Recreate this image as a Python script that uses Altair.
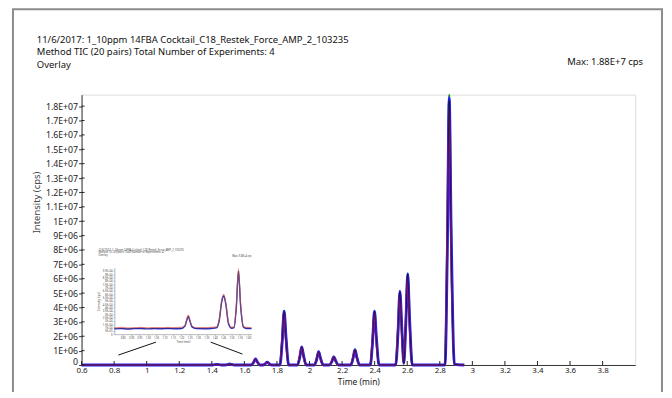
import altair as alt
import pandas as pd

# ---------------- text ----------------
title_lines = [
    "11/6/2017: 1_10ppm 14FBA Cocktail_C18_Restek_Force_AMP_2_103235",
    "Method TIC (20 pairs) Total Number of Experiments: 4",
    "Overlay",
]
max_label = "Max: 1.88E+7 cps"
inset_max_label = "Max: 9.8E+4 cps"
x_title = "Time (min)"
y_title = "Intensity (cps)"

# ---------------- main chromatogram (intensity in millions of cps) ----------------
times = [0.60,
         1.404, 1.418, 1.430, 1.442, 1.458,
         1.484, 1.498, 1.510, 1.522, 1.538,
         1.642, 1.656, 1.668, 1.680, 1.696,
         1.714, 1.728, 1.740, 1.752, 1.768,
         1.818, 1.832, 1.844, 1.856, 1.872,
         1.926, 1.940, 1.952, 1.964, 1.980,
         2.030, 2.044, 2.056, 2.068, 2.084,
         2.123, 2.137, 2.149, 2.161, 2.177,
         2.253, 2.267, 2.279, 2.291, 2.307,
         2.373, 2.387, 2.399, 2.411, 2.427,
         2.529, 2.543, 2.555, 2.567, 2.579,
         2.591, 2.603, 2.615, 2.631,
         2.832, 2.846, 2.858, 2.870, 2.890,
         2.95]

exp1_blue = [0,
             0, 0.02, 0.05, 0.025, 0,
             0, 0.03, 0.07, 0.035, 0,
             0, 0.17, 0.42, 0.21, 0,
             0, 0.08, 0.20, 0.10, 0,
             0, 1.55, 3.75, 1.90, 0,
             0, 0.52, 1.26, 0.63, 0,
             0, 0.38, 0.92, 0.46, 0,
             0, 0.23, 0.57, 0.29, 0,
             0, 0.44, 1.06, 0.53, 0,
             0, 1.55, 3.74, 1.88, 0,
             0, 2.10, 5.12, 2.60, 0.12,
             2.70, 6.34, 3.15, 0,
             0, 7.60, 18.6, 9.40, 0.05,
             0]

exp2_red = [0,
            0, 0.025, 0.05, 0.02, 0,
            0, 0.035, 0.07, 0.03, 0,
            0, 0.21, 0.41, 0.17, 0,
            0, 0.10, 0.19, 0.08, 0,
            0, 1.90, 3.66, 1.50, 0,
            0, 0.64, 1.23, 0.50, 0,
            0, 0.47, 0.90, 0.37, 0,
            0, 0.29, 0.56, 0.23, 0,
            0, 0.54, 1.04, 0.42, 0,
            0, 1.92, 3.65, 1.50, 0,
            0, 2.65, 5.02, 2.05, 0.10,
            3.25, 6.22, 2.55, 0,
            0, 9.40, 18.0, 7.40, 0.04,
            0]

exp3_green = [0,
              0, 0.02, 0.05, 0.02, 0,
              0, 0.03, 0.07, 0.03, 0,
              0, 0.19, 0.42, 0.19, 0,
              0, 0.09, 0.20, 0.09, 0,
              0, 1.72, 3.78, 1.72, 0,
              0, 0.57, 1.27, 0.57, 0,
              0, 0.42, 0.93, 0.42, 0,
              0, 0.26, 0.58, 0.26, 0,
              0, 0.48, 1.07, 0.48, 0,
              0, 1.70, 3.76, 1.70, 0,
              0, 2.32, 5.14, 2.32, 0.11,
              2.90, 6.36, 2.90, 0,
              0, 8.60, 18.8, 8.60, 0.05,
              0]

exp4_black = [0,
              0, 0.02, 0.05, 0.02, 0,
              0, 0.03, 0.07, 0.03, 0,
              0, 0.19, 0.41, 0.19, 0,
              0, 0.09, 0.20, 0.09, 0,
              0, 1.70, 3.72, 1.70, 0,
              0, 0.57, 1.25, 0.57, 0,
              0, 0.42, 0.91, 0.42, 0,
              0, 0.26, 0.57, 0.26, 0,
              0, 0.48, 1.05, 0.48, 0,
              0, 1.70, 3.72, 1.70, 0,
              0, 2.32, 5.08, 2.32, 0.11,
              2.88, 6.30, 2.88, 0,
              0, 8.40, 18.4, 8.40, 0.05,
              0]

x_ticks = [0.6, 0.8, 1.0, 1.2, 1.4, 1.6, 1.8, 2.0, 2.2, 2.4, 2.6, 2.8, 3.0, 3.2, 3.4, 3.6, 3.8]
y_ticks_m = [0, 1, 2, 3, 4, 5, 6, 7, 8, 9, 10, 11, 12, 13, 14, 15, 16, 17, 18]

# zoom indicator lines (time, intensity in millions)
zoom_x1 = [0.826, 1.393]
zoom_y1 = [0.69, 1.59]
zoom_x2 = [1.057, 1.588]
zoom_y2 = [1.59, 0.76]

# ---------------- inset chromatogram (intensity in thousands of cps) ----------------
inset_times = [0.80, 0.84, 0.88, 0.92, 0.96, 1.00, 1.04, 1.08, 1.12, 1.16, 1.20,
               1.222, 1.232, 1.242, 1.252, 1.264, 1.29, 1.34, 1.38, 1.41,
               1.428, 1.441, 1.454, 1.467, 1.482, 1.50, 1.515,
               1.529, 1.542, 1.555, 1.572, 1.59, 1.62]
inset_blue = [8.0, 8.4, 7.8, 8.3, 8.6, 7.9, 8.4, 8.1, 8.6, 8.2, 8.5,
              12.0, 20.0, 26.5, 19.5, 11.0, 8.4, 8.2, 8.6, 9.5,
              22.0, 47.0, 57.0, 44.0, 16.0, 9.0, 9.5,
              40.0, 93.0, 42.0, 10.5, 8.6, 8.3]
inset_red = [9.6, 10.1, 9.4, 9.9, 10.3, 9.5, 10.0, 9.8, 10.2, 9.9, 10.1,
             13.5, 22.0, 28.5, 21.0, 12.5, 10.0, 9.9, 10.2, 11.0,
             24.0, 50.0, 60.0, 46.0, 18.0, 10.6, 11.0,
             43.0, 98.0, 45.0, 12.0, 10.2, 9.9]
inset_black = [8.6, 8.9, 8.5, 8.8, 9.1, 8.6, 8.9, 8.7, 9.0, 8.8, 9.0,
               12.6, 21.0, 27.5, 20.0, 11.6, 9.0, 8.8, 9.2, 10.0,
               23.0, 49.0, 58.5, 45.0, 17.0, 9.6, 10.0,
               41.0, 95.0, 43.5, 11.0, 9.2, 8.9]
inset_x_ticks = [0.85, 0.9, 0.95, 1.0, 1.05, 1.1, 1.15, 1.2, 1.25, 1.3, 1.35, 1.4, 1.45, 1.5, 1.55, 1.6]
inset_y_ticks_k = [0, 5, 10, 15, 20, 25, 30, 35, 40, 45, 50, 55, 60, 65, 70, 75, 80, 85, 90, 95]

# ---------------- layout ----------------
W, H = 557, 272
FONT = "Noto Sans"

xs_main = alt.Scale(domain=[0.6, 4.0], range=[0, W], nice=False, zero=False)
ys_main = alt.Scale(domain=[0, 1.88e7], range=[H, 0], nice=False, zero=True)

def main_df(vals):
    return pd.DataFrame({"time": times, "intensity": [v * 1e6 for v in vals]})

y_label_expr = "datum.value == 0 ? '0' : replace(format(datum.value, '.2~e'), 'e+', 'E+0')"

main_x_axis = alt.Axis(orient="bottom", values=x_ticks, format="~g", ticks=False, labelFontSize=8,
                       labelFont=FONT, labelPadding=2, domainColor="#333", labelColor="#222",
                       title=x_title, titleFont=FONT, titleFontSize=8.5, titleFontWeight="normal",
                       titlePadding=3, titleColor="#222", grid=False, labelFlush=False)
main_y_axis = alt.Axis(orient="left", values=[v * 1e6 for v in y_ticks_m], labelExpr=y_label_expr,
                       tickSize=3, labelFontSize=8.8, labelFont=FONT, labelPadding=1,
                       labelOffset={"condition": {"test": "datum.value == 0", "value": -3}, "value": 0},
                       domainColor="#333", tickColor="#333", labelColor="#222", title=y_title,
                       titleFont=FONT, titleFontSize=9.5, titleFontWeight="normal", titlePadding=4,
                       titleY=108, titleColor="#444", grid=False, labelFlush=False)

def trace(vals, color, width, opacity=1.0, first=False):
    return alt.Chart(main_df(vals)).mark_line(
        interpolate="monotone", color=color, strokeWidth=width, opacity=opacity
    ).encode(
        x=alt.X("time:Q", scale=xs_main, axis=main_x_axis if first else None),
        y=alt.Y("intensity:Q", scale=ys_main, axis=main_y_axis if first else None),
    )

lines = [
    trace(exp3_green, "#1a9a1a", 2.2, first=True),
    trace(exp1_blue, "#2020ff", 2.8),
    trace(exp2_red, "#c0189a", 1.7, opacity=0.8),
    trace(exp4_black, "#111111", 0.8),
]

xtick_df = pd.DataFrame({"t": x_ticks})
xticks_in = alt.Chart(xtick_df).mark_rule(color="#222", strokeWidth=1).encode(
    x=alt.X("t:Q", scale=xs_main, axis=None), y=alt.value(H), y2=alt.value(H - 4))

ytick_df = pd.DataFrame({"v": [v * 1e6 for v in y_ticks_m]})
yticks_in = alt.Chart(ytick_df).mark_rule(color="#222", strokeWidth=1).encode(
    y=alt.Y("v:Q", scale=ys_main, axis=None), x=alt.value(0), x2=alt.value(3))

zoom_df = pd.DataFrame({"x1": zoom_x1, "y1": [v * 1e6 for v in zoom_y1],
                        "x2": zoom_x2, "y2": [v * 1e6 for v in zoom_y2]})
zoom_lines = alt.Chart(zoom_df).mark_rule(color="#111", strokeWidth=1).encode(
    x=alt.X("x1:Q", scale=xs_main, axis=None), y=alt.Y("y1:Q", scale=ys_main, axis=None),
    x2="x2:Q", y2="y2:Q")

frame = alt.Chart(pd.DataFrame({"a": [0]})).mark_rect(
    fill=None, stroke="#8c8c8c", strokeWidth=2
).encode(x=alt.value(-69), x2=alt.value(584), y=alt.value(-86), y2=alt.value(320))

title_txt = alt.Chart(pd.DataFrame({"a": [0]})).mark_text(
    text=title_lines, align="left", baseline="top", font=FONT, fontSize=9.5, lineHeight=12.5,
    color="#111"
).encode(x=alt.value(-45), y=alt.value(-60))

max_txt = alt.Chart(pd.DataFrame({"a": [0]})).mark_text(
    text=max_label, align="right", baseline="middle", font=FONT, fontSize=9.5, color="#111"
).encode(x=alt.value(565), y=alt.value(-33))

# ---------------- inset ----------------
xs_in = alt.Scale(domain=[0.8, 1.62], range=[33, 171], nice=False, zero=False)
ys_in = alt.Scale(domain=[0, 100000], range=[241, 174], nice=False, zero=True)

inset_x_axis = alt.Axis(orient="bottom", offset=-31, values=inset_x_ticks, format=".2f",
                        labelFontSize=2.6, labelFont=FONT, tickSize=1.5, tickWidth=0.5,
                        domainWidth=0.6, labelPadding=1, labelOverlap=False, labelColor="#444",
                        title=x_title, titleFontSize=2.8, titleFont=FONT, titleFontWeight="normal",
                        titlePadding=1, titleColor="#444", grid=False)
inset_y_axis = alt.Axis(orient="left", offset=-33, values=[v * 1000 for v in inset_y_ticks_k],
                        labelExpr=y_label_expr, labelFontSize=2.6, labelFont=FONT, tickSize=1.5,
                        tickWidth=0.5, domainWidth=0.6, labelPadding=1, labelOverlap=False,
                        labelColor="#444", title=y_title, titleFontSize=2.8, titleFont=FONT,
                        titleFontWeight="normal", titlePadding=2, titleColor="#444", grid=False)

def inset_trace(vals, color, width, opacity=1.0, first=False):
    df = pd.DataFrame({"time": inset_times, "intensity": [v * 1000 for v in vals]})
    return alt.Chart(df).mark_line(
        interpolate="monotone", color=color, strokeWidth=width, opacity=opacity
    ).encode(
        x=alt.X("time:Q", scale=xs_in, axis=inset_x_axis if first else None),
        y=alt.Y("intensity:Q", scale=ys_in, axis=inset_y_axis if first else None),
    )

inset_title = alt.Chart(pd.DataFrame({"a": [0]})).mark_text(
    text=title_lines, align="left", baseline="top", font=FONT, fontSize=2.6, lineHeight=2.8,
    color="#444"
).encode(x=alt.value(17), y=alt.value(155))

inset_max = alt.Chart(pd.DataFrame({"a": [0]})).mark_text(
    text=inset_max_label, align="right", baseline="middle", font=FONT, fontSize=2.6, color="#444"
).encode(x=alt.value(171), y=alt.value(162))

chart = alt.layer(
    frame, title_txt, max_txt,
    *lines, xticks_in, yticks_in, zoom_lines,
    inset_trace(inset_blue, "#2a2ae8", 1.4, first=True),
    inset_trace(inset_red, "#f07878", 1.2, opacity=0.8),
    inset_trace(inset_black, "#222222", 0.6, opacity=0.8),
    inset_title, inset_max,
).resolve_scale(x="independent", y="independent").properties(
    width=W, height=H,
    autosize=alt.AutoSizeParams(type="none"),
    padding={"left": 74, "top": 86, "right": 29, "bottom": 26},
).configure_view(stroke=None).configure(background="white")

chart.save("out.html", embed_options={"renderer": "svg", "actions": False})
